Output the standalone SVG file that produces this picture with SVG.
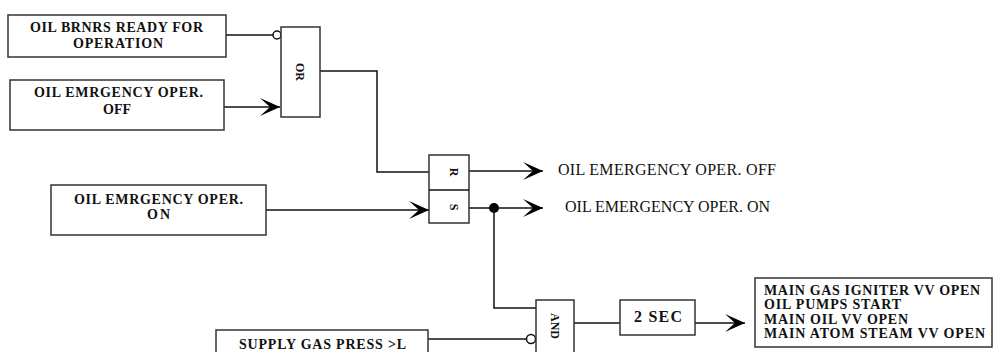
<svg xmlns="http://www.w3.org/2000/svg" width="995" height="352" viewBox="0 0 995 352">
<style>
.box{fill:#fff;stroke:#333;stroke-width:1.5}
.ln{fill:none;stroke:#111;stroke-width:1.5}
.bt{font-family:"Liberation Serif","Times New Roman","DejaVu Serif",serif;font-weight:bold;font-size:14px;fill:#111}
.lt{font-family:"Liberation Serif","Times New Roman","DejaVu Serif",serif;font-size:16px;fill:#111}
.gt{font-family:"Liberation Serif","Times New Roman","DejaVu Serif",serif;font-weight:bold;font-size:12px;fill:#111}
</style>
<defs>
<marker id="arr" markerUnits="userSpaceOnUse" markerWidth="22" markerHeight="20" refX="20" refY="10" orient="auto">
<path d="M20,10 L0,1 L10,10 L0,19 Z" fill="#000"/>
</marker>
</defs>
<rect width="995" height="352" fill="#fff"/>
<g id="connectors">
<line class="ln" x1="226" y1="35" x2="273" y2="35"/>
<circle cx="277" cy="35" r="4" fill="#fff" stroke="#111" stroke-width="1.5"/>
<line class="ln" x1="224" y1="107" x2="280" y2="107" marker-end="url(#arr)"/>
<polyline class="ln" points="320,71 377,71 377,172 429,172"/>
<line class="ln" x1="469" y1="171" x2="543" y2="171" marker-end="url(#arr)"/>
<line class="ln" x1="266" y1="210" x2="429" y2="210" marker-end="url(#arr)"/>
<line class="ln" x1="469" y1="208" x2="543" y2="208" marker-end="url(#arr)"/>
<circle cx="494" cy="208" r="5" fill="#000"/>
<polyline class="ln" points="494,208 494,308 536,308"/>
<line class="ln" x1="428" y1="339" x2="527" y2="339"/>
<circle cx="531" cy="339" r="4.5" fill="#fff" stroke="#111" stroke-width="1.5"/>
<line class="ln" x1="574" y1="323" x2="620" y2="323"/>
<line class="ln" x1="695" y1="323" x2="745" y2="323" marker-end="url(#arr)"/>
</g>
<g id="n_oil_brnrs">
<rect class="box" x="8" y="15" width="218" height="42"/>
<text class="bt" x="30" y="32" textLength="173" lengthAdjust="spacing">OIL BRNRS READY FOR</text>
<text class="bt" x="73" y="48" textLength="90" lengthAdjust="spacing">OPERATION</text>
</g>
<g id="n_oil_emr_off">
<rect class="box" x="10" y="80" width="214" height="50"/>
<text class="bt" x="34" y="97" textLength="169" lengthAdjust="spacing">OIL EMRGENCY OPER.</text>
<text class="bt" x="103" y="114" textLength="28" lengthAdjust="spacing">OFF</text>
</g>
<g id="n_or">
<rect class="box" x="281" y="27" width="39" height="90"/>
<text class="gt" transform="translate(296,72) rotate(90)" text-anchor="middle">OR</text>
</g>
<g id="n_rs">
<rect class="box" x="429" y="155" width="40" height="68"/>
<line class="ln" x1="429" y1="190" x2="469" y2="190"/>
<text class="gt" transform="translate(450,172) rotate(90)" text-anchor="middle" font-size="11">R</text>
<text class="gt" transform="translate(450,207) rotate(90)" text-anchor="middle" font-size="11">S</text>
</g>
<g id="n_out_off">
<text class="lt" x="558" y="175" textLength="218" lengthAdjust="spacing">OIL EMERGENCY OPER. OFF</text>
</g>
<g id="n_out_on">
<text class="lt" x="565" y="212" textLength="205" lengthAdjust="spacing">OIL EMERGENCY OPER. ON</text>
</g>
<g id="n_oil_emr_on">
<rect class="box" x="51" y="185" width="215" height="50"/>
<text class="bt" x="74" y="204" textLength="169" lengthAdjust="spacing">OIL EMRGENCY OPER.</text>
<text class="bt" x="147" y="219" textLength="23" lengthAdjust="spacing">ON</text>
</g>
<g id="n_and">
<rect class="box" x="536" y="300" width="38" height="60"/>
<text class="gt" transform="translate(551,326) rotate(90)" text-anchor="middle">AND</text>
</g>
<g id="n_supply">
<rect class="box" x="216" y="330" width="212" height="30"/>
<text class="bt" x="239" y="349" textLength="167" lengthAdjust="spacing">SUPPLY GAS PRESS &gt;L</text>
</g>
<g id="n_timer">
<rect class="box" x="620" y="300" width="75" height="35"/>
<text class="lt" x="634" y="322" textLength="48" lengthAdjust="spacing" font-weight="bold">2 SEC</text>
</g>
<g id="n_result">
<rect class="box" x="755" y="278" width="237" height="69"/>
<text class="bt" x="764" y="295" textLength="216" lengthAdjust="spacing">MAIN GAS IGNITER VV OPEN</text>
<text class="bt" x="764" y="309" textLength="137" lengthAdjust="spacing">OIL PUMPS START</text>
<text class="bt" x="764" y="324" textLength="144" lengthAdjust="spacing">MAIN OIL VV OPEN</text>
<text class="bt" x="764" y="338" textLength="221" lengthAdjust="spacing">MAIN ATOM STEAM VV OPEN</text>
</g>
</svg>
